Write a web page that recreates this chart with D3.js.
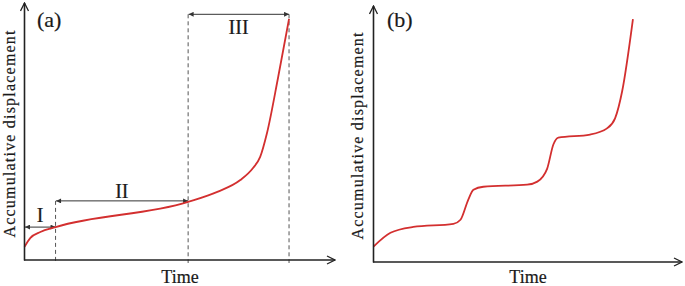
<!DOCTYPE html>
<html>
<head>
<meta charset="utf-8">
<script src="https://cdn.jsdelivr.net/npm/d3@7"></script>
<style>
  html, body { margin: 0; padding: 0; background: #fff; }
  text { font-family: "Liberation Serif", "Times New Roman", serif; fill: #1a1a1a; stroke: #1a1a1a; stroke-width: 0.2; }
</style>
</head>
<body>
<svg id="chart" width="685" height="286"></svg>
<script>
// ---- Data (time and displacement in arbitrary units, 0..100) ----
const timeA = [0, 1.9, 5.1, 10.0, 52.7, 62.1, 69.5, 73.6, 75.9, 78.1, 81.7, 85.2];
const dispA = [5.1, 8.6, 10.9, 12.8, 22.6, 26.5, 31.1, 35.8, 40.1, 49.4, 71.2, 93.8];

const timeB = [0, 5.5, 12.9, 25.9, 28.2, 30.7, 32.4, 35.6, 49.8, 53.1, 56.3, 58.3, 59.9, 70.2, 75.7, 78.3, 80.6, 84.1];
const dispB = [6.0, 11.4, 13.7, 14.9, 16.5, 24.3, 28.2, 29.4, 30.2, 31.4, 36.5, 45.9, 48.6, 49.8, 52.2, 56.1, 66.7, 94.9];

// Stage boundaries (panel a) and stage labels
const stageBounds = [0, 10.0, 52.7, 85.2];
const stageLabels = ["I", "II", "III"];
const stageArrowY = [12.8, 23.0, 95.6];
const stageLabelY = [14.8, 24.3, 87.8];

const panelLabels = ["(a)", "(b)"];
const xTitle = "Time";
const yTitle = "Accumulative displacement";

// ---- Drawing ----
const svg = d3.select("#chart");
const defs = svg.append("defs");

defs.append("marker").attr("id", "axisHead")
  .attr("viewBox", "0 0 10 10").attr("refX", 9).attr("refY", 5)
  .attr("markerWidth", 10).attr("markerHeight", 10).attr("markerUnits", "userSpaceOnUse")
  .attr("orient", "auto")
  .append("path").attr("d", "M1,1 L9,5 L1,9").attr("fill", "none")
  .attr("stroke", "#222").attr("stroke-width", 1.3);

defs.append("marker").attr("id", "dimHead")
  .attr("viewBox", "0 0 10 10").attr("refX", 10).attr("refY", 5)
  .attr("markerWidth", 6).attr("markerHeight", 5).attr("markerUnits", "userSpaceOnUse")
  .attr("orient", "auto-start-reverse")
  .append("path").attr("d", "M0,0 L10,5 L0,10 Z").attr("fill", "#333");

const panels = [
  { x0: 24.5, x1: 335, y0: 260, y1: 3, time: timeA, disp: dispA, label: panelLabels[0], labelX: 37, ylabX: 15, timeX: 180 },
  { x0: 373.5, x1: 682, y0: 262, y1: 6, time: timeB, disp: dispB, label: panelLabels[1], labelX: 387, ylabX: 363, timeX: 528 }
];

panels.forEach((p, i) => {
  const g = svg.append("g");
  const x = d3.scaleLinear().domain([0, 100]).range([p.x0, p.x1]);
  const y = d3.scaleLinear().domain([0, 100]).range([p.y0, p.y1]);

  if (i === 0) {
    [1, 2, 3].forEach(k => {
      const top = k === 1 ? y(stageArrowY[1]) : y(stageArrowY[2]);
      g.append("line")
        .attr("x1", x(stageBounds[k])).attr("x2", x(stageBounds[k]))
        .attr("y1", top).attr("y2", p.y0 + 3)
        .attr("stroke", "#555").attr("stroke-width", 1)
        .attr("stroke-dasharray", "4,3");
    });
    stageLabels.forEach((lab, k) => {
      g.append("line")
        .attr("x1", x(stageBounds[k]) + 0.5).attr("x2", x(stageBounds[k + 1]))
        .attr("y1", y(stageArrowY[k])).attr("y2", y(stageArrowY[k]))
        .attr("stroke", "#333").attr("stroke-width", 1)
        .attr("marker-start", "url(#dimHead)").attr("marker-end", "url(#dimHead)");
      g.append("text")
        .attr("x", (x(stageBounds[k]) + x(stageBounds[k + 1])) / 2)
        .attr("y", y(stageLabelY[k]))
        .attr("text-anchor", "middle")
        .attr("font-size", 20)
        .text(lab);
    });
  }

  const line = d3.line()
    .x((d, j) => x(p.time[j]))
    .y((d, j) => y(p.disp[j]))
    .curve(d3.curveMonotoneX);
  g.append("path").datum(p.time)
    .attr("d", line)
    .attr("fill", "none").attr("stroke", "#d32f2f").attr("stroke-width", 1.8);

  g.append("line")
    .attr("x1", p.x0).attr("x2", p.x0).attr("y1", p.y0 + 0.5).attr("y2", p.y1)
    .attr("stroke", "#222").attr("stroke-width", 1.6).attr("marker-end", "url(#axisHead)");
  g.append("line")
    .attr("x1", p.x0 - 0.5).attr("x2", p.x1).attr("y1", p.y0).attr("y2", p.y0)
    .attr("stroke", "#222").attr("stroke-width", 1.6).attr("marker-end", "url(#axisHead)");

  g.append("text").attr("x", p.labelX).attr("y", 27)
    .attr("font-size", 22).text(p.label);

  g.append("text").attr("x", p.timeX).attr("y", 283)
    .attr("text-anchor", "middle").attr("font-size", 18).text(xTitle);
  const cy = i === 0 ? 134 : 136;
  g.append("text")
    .attr("transform", `translate(${p.ylabX},${cy}) rotate(-90)`)
    .attr("text-anchor", "middle").attr("font-size", 16)
    .attr("textLength", 207).attr("lengthAdjust", "spacing")
    .text(yTitle);
});
</script>
</body>
</html>
